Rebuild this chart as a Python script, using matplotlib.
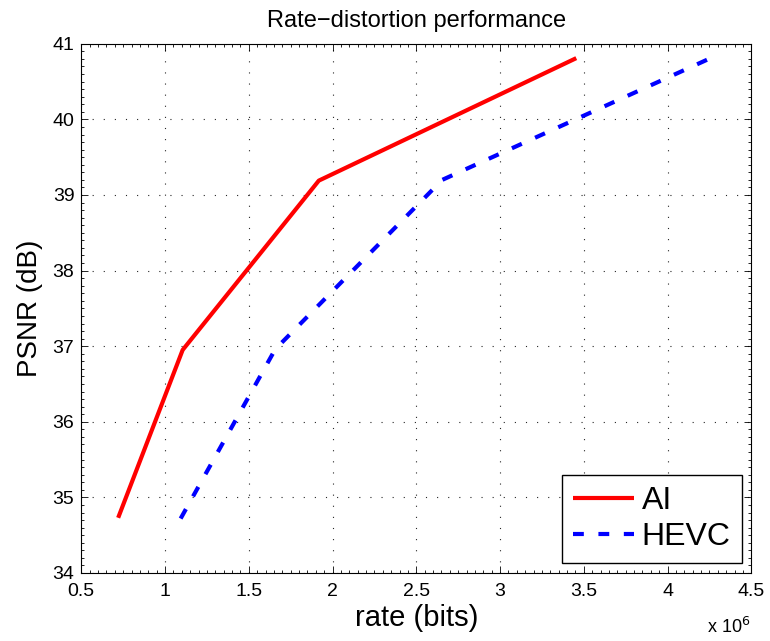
import matplotlib
matplotlib.use("Agg")
import matplotlib.pyplot as plt
from matplotlib.ticker import MultipleLocator, FuncFormatter

plt.rcParams['font.family'] = ['Liberation Sans', 'DejaVu Sans']

# Data (rate in bits, PSNR in dB)
ai_rate = [0.72e6, 1.105e6, 1.918e6, 3.455e6]
ai_psnr = [34.73, 36.95, 39.19, 40.81]
hevc_rate = [1.093e6, 1.658e6, 2.655e6, 4.267e6]
hevc_psnr = [34.72, 36.96, 39.20, 40.82]
series_labels = ['AI', 'HEVC']
title = 'Rate\u2212distortion performance'
xlabel = 'rate (bits)'
ylabel = 'PSNR (dB)'

fig = plt.figure(figsize=(7.7, 6.41), dpi=100)
ax = fig.add_axes([0.1056, 0.1061, 0.8701, 0.8256])

ax.plot(ai_rate, ai_psnr, color=(1, 0, 0), lw=3, solid_capstyle='butt',
        label=series_labels[0])
ax.plot(hevc_rate, hevc_psnr, color=(0, 0, 1), lw=3,
        linestyle=(0, (2.6, 3.5)), dash_capstyle='butt', label=series_labels[1])

ax.set_xlim(0.5e6, 4.5e6)
ax.set_ylim(34, 41)
ax.xaxis.set_major_locator(MultipleLocator(0.5e6))
ax.xaxis.set_minor_locator(MultipleLocator(0.05e6))
ax.yaxis.set_major_locator(MultipleLocator(1))
ax.yaxis.set_minor_locator(MultipleLocator(0.1))
ax.xaxis.set_major_formatter(FuncFormatter(lambda v, p: '%g' % (v / 1e6)))
ax.yaxis.set_major_formatter(FuncFormatter(lambda v, p: '%g' % v))

ax.tick_params(which='both', direction='in', top=True, right=True,
               labelsize=14, width=0.6)
ax.tick_params(which='major', length=5)
ax.tick_params(which='minor', length=2.5)
ax.tick_params(axis='x', which='major', pad=7)
ax.tick_params(axis='y', which='major', pad=5)

ax.grid(True, which='major', color='0.15', linestyle=(0, (1, 9)), linewidth=0.8)
for s in ax.spines.values():
    s.set_linewidth(0.8)

ax.set_title(title, fontsize=17, pad=12)
ax.set_xlabel(xlabel, fontsize=21, labelpad=3)
ax.set_ylabel(ylabel, fontsize=20, labelpad=7)

fig.text(0.946, 0.006, 'x 10$^{6}$', fontsize=13, ha='center', va='bottom')

leg = ax.legend(loc='lower right', fontsize=23, frameon=True, fancybox=False,
                edgecolor='black', handlelength=1.9, handletextpad=0.25,
                borderpad=0.35, labelspacing=0.2, borderaxespad=0.3,
                framealpha=1)
leg.get_frame().set_linewidth(1.0)

fig.savefig('out.png', dpi=100)
